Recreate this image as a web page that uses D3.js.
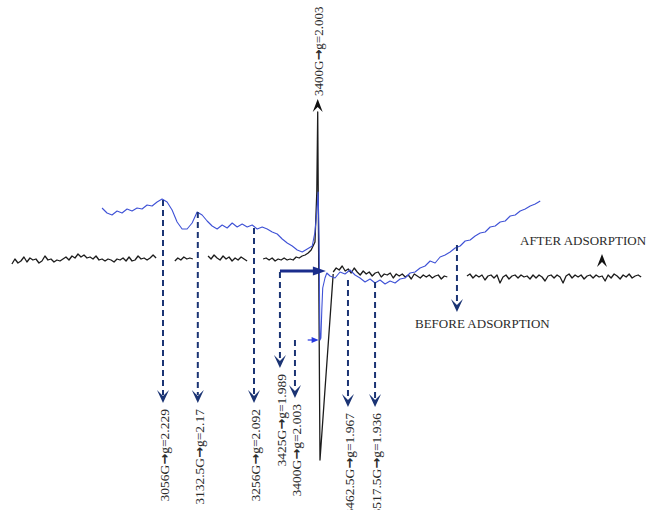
<!DOCTYPE html>
<html>
<head>
<meta charset="utf-8">
<script src="https://cdn.jsdelivr.net/npm/d3@7"></script>
<style>
  body { margin: 0; background: #fff; }
  svg { display: block; }
  text { font-family: "Liberation Serif", "Times New Roman", serif; fill: #2b2b2b; }
</style>
</head>
<body>
<script>
// EPR spectra: field in gauss, intensity in arbitrary units

// before adsorption (blue) - sampled every 11 G on both sides of the central line
var blueLeftStart = 2922, blueRightStart = 3423, blueStep = 11;
var blueLeft = [54,49,47,51,49,53,51,54,53,57,56,60,63,60,52,40,33,33,39,50,47,41,36,33,37,34,39,35,38,35,37,33,35,33,30,28,23,19,16,12,10,13,16];
var bluePeakField = [3390, 3394, 3397, 3399, 3400, 3401, 3403, 3405, 3407, 3412, 3416];
var bluePeakVal = [30, 50, 70, 22, -38, -78, -76, -48, -26, -16, -11];
var blueRight = [-14,-16,-10,-12,-8,-13,-16,-20,-17,-21,-18,-22,-19,-21,-17,-16,-11,-10,-6,-4,1,-1,5,7,10,14,16,21,22,26,29,30,35,36,40,41,46,47,51,53,56,58,61];

// after adsorption (black) - broken trace, sampled every 6.6 G
var blackStep = 6.6;
var blackStart = [2724, 3082, 3155, 3276, 3430, 3724];
var blackSegs = [
  [-2,3,-1,1,5,0,4,2,3,-1,1,6,2,3,0,2,1,3,5,2,6,4,8,5,7,4,5,3,6,2,3,1,3,2,0,3,2,4,1,5,1,2,6,3,4,2,4,7,4],
  [1,4,2,5,3,4,3],
  [6,3,7,4,2,6,3,5,1,4,2,5,3,1],
  [3,4,2,4,1,3,2,4,2,3,2,5,4,6,7,9,12],
  [-10,-6,-8,-4,-9,-7,-11,-6,-10,-13,-9,-12,-10,-14,-11,-10,-15,-12,-13,-11,-16,-12,-14,-12,-15,-13,-17,-12,-14,-16,-13,-15,-13,-16,-14,-13,-17,-14,-15],
  [-14,-12,-16,-13,-15,-13,-18,-14,-13,-16,-13,-21,-15,-13,-17,-14,-13,-16,-13,-15,-14,-17,-13,-16,-13,-15,-19,-14,-13,-16,-13,-15,-21,-14,-12,-16,-13,-15,-13,-17,-14,-13,-16,-13,-15,-14,-19,-13,-16,-12,-14,-17,-13,-15,-12,-16,-14,-13,-15]
];
var blackPeakField = [3390, 3394, 3396, 3401, 3430];
var blackPeakVal = [20, 70, 150, -198, -12];

// g-value markers: where each dashed arrow sits, where it starts and where it points
var markField = [3056, 3132.5, 3256, 3313, 3346, 3462.5, 3522];
var markFrom = [62, 50, 34, -10, -78, -18, -20];
var markTo = [-141, -141, -141, -106, -136, -145, -145];
var markField1 = ["3056G", "3132.5G", "3256G", "3425G", "3400G", "3462.5G", "3517.5G"];
var markG = ["g=2.229", "g=2.17", "g=2.092", "g=1.989", "g=2.003", "g=1.967", "g=1.936"];

var W = 649, H = 510;
var x = d3.scaleLinear().domain([3056, 3517.5]).range([163, 373]);
var y = d3.scaleLinear().domain([262, -248]).range([0, H]);

var svg = d3.select("body").append("svg").attr("width", W).attr("height", H);

var line = d3.line().x(d => x(d[0])).y(d => y(d[1]));

// black trace
blackSegs.forEach(function(seg, i) {
  var pts = seg.map((v, j) => [blackStart[i] + j * blackStep, v]);
  if (i == 3) blackPeakField.forEach((f, j) => pts.push([f, blackPeakVal[j]]));
  svg.append("path").attr("d", line(pts))
    .attr("fill", "none").attr("stroke", "#1c1c1c").attr("stroke-width", 1.3)
    .attr("stroke-linejoin", "round");
});

// blue trace
var bluePts = blueLeft.map((v, j) => [blueLeftStart + j * blueStep, v]);
bluePeakField.forEach((f, j) => bluePts.push([f, bluePeakVal[j]]));
blueRight.forEach((v, j) => bluePts.push([blueRightStart + j * blueStep, v]));
svg.append("path").attr("d", line(bluePts))
  .attr("fill", "none").attr("stroke", "#3f52d6").attr("stroke-width", 1.1)
  .attr("stroke-linejoin", "round");

var navy = "#1b3474";
var chevDown = "M0,0 L-6,-13 L0,-7 L6,-13 Z";
var chevUp = "M0,0 L-5,13 L0,8 L5,13 Z";

function gLabel(sel, field, g) {
  sel.append("tspan").text(field);
  sel.append("tspan").style("font-weight", "bold").style("font-family", "DejaVu Sans").style("font-size", "13px").text("\u2192");
  sel.append("tspan").text(g);
}

// dashed marker arrows with rotated labels
markField.forEach(function(f, i) {
  var px = x(f);
  svg.append("line")
    .attr("x1", px).attr("x2", px)
    .attr("y1", y(markFrom[i])).attr("y2", y(markTo[i]) - 8)
    .attr("stroke", navy).attr("stroke-width", 2).attr("stroke-dasharray", "6,4");
  svg.append("path").attr("d", chevDown)
    .attr("transform", "translate(" + px + "," + y(markTo[i]) + ")")
    .attr("fill", navy);
  svg.append("text")
    .attr("transform", "translate(" + (px + 1) + "," + (y(markTo[i]) + 6) + ") rotate(-90)")
    .attr("text-anchor", "end").attr("dy", "0.35em")
    .style("font-size", "13.5px")
    .call(gLabel, markField1[i], markG[i]);
});

// central line label at the top
svg.append("path").attr("d", chevUp)
  .attr("transform", "translate(" + x(3396) + "," + y(163) + ")")
  .attr("fill", "#111");
svg.append("text")
  .attr("transform", "translate(" + (x(3396) + 1) + "," + (y(163) - 3) + ") rotate(-90)")
  .attr("text-anchor", "start").attr("dy", "0.35em")
  .style("font-size", "13px")
  .call(gLabel, "3400G", "g=2.003");

// thick horizontal arrow to the central line
svg.append("line")
  .attr("x1", x(3313)).attr("x2", x(3398))
  .attr("y1", y(-9)).attr("y2", y(-9))
  .attr("stroke", "#1a2d8c").attr("stroke-width", 3);
svg.append("path")
  .attr("d", "M0,0 L-13,-4.5 L-13,4.5 Z")
  .attr("transform", "translate(" + x(3414) + "," + y(-9) + ")")
  .attr("fill", "#1a2d8c");

// small blue arrow at the minimum of the blue line
svg.append("line")
  .attr("x1", x(3374)).attr("x2", x(3392))
  .attr("y1", y(-78)).attr("y2", y(-78))
  .attr("stroke", "#2538e0").attr("stroke-width", 1.2);
svg.append("path")
  .attr("d", "M0,0 L-7,-3 L-7,3 Z")
  .attr("transform", "translate(" + x(3398) + "," + y(-78) + ")")
  .attr("fill", "#2538e0");

// before adsorption pointer
var befField = 3702;
svg.append("line")
  .attr("x1", x(befField)).attr("x2", x(befField))
  .attr("y1", y(17)).attr("y2", y(-50) - 8)
  .attr("stroke", navy).attr("stroke-width", 2).attr("stroke-dasharray", "6,4");
svg.append("path").attr("d", chevDown)
  .attr("transform", "translate(" + x(befField) + "," + y(-50) + ")")
  .attr("fill", navy);
svg.append("text")
  .attr("x", 415).attr("y", 328)
  .style("font-size", "13px")
  .text("BEFORE ADSORPTION");

// after adsorption label
svg.append("text")
  .attr("x", 520).attr("y", 245)
  .style("font-size", "13px")
  .text("AFTER ADSORPTION");
svg.append("path").attr("d", chevUp)
  .attr("transform", "translate(602,254)")
  .attr("fill", "#111");
</script>
</body>
</html>
